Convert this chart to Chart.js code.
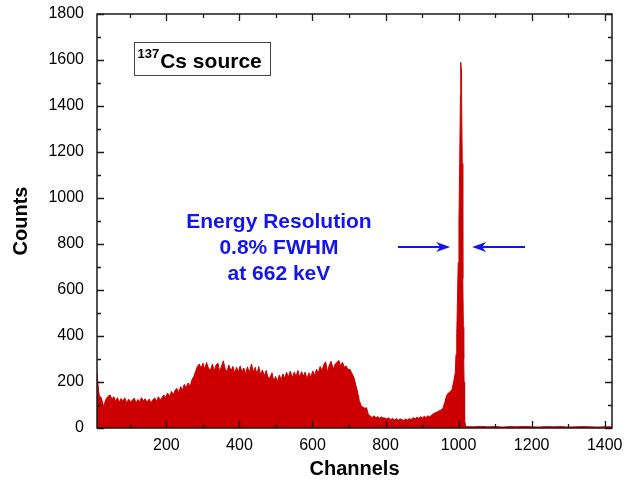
<!DOCTYPE html>
<html>
<head>
<meta charset="utf-8">
<script src="https://cdn.jsdelivr.net/npm/chart.js@4.4.1/dist/chart.umd.min.js"></script>
<style>
  html, body { margin: 0; padding: 0; background: #fff; }
  canvas { display: block; }
</style>
</head>
<body>
<canvas id="spectrum" width="628" height="487"></canvas>
<script>
// 137Cs spectrum
const channels = [
  10, 13, 16, 19, 22, 25, 28, 31, 35, 41, 46, 51, 56, 61, 66, 71, 76, 81, 86, 91,
  97, 102, 107, 112, 117, 122, 127, 132, 137, 142, 147, 153, 158, 163, 168, 173, 178, 183, 188, 193,
  198, 203, 209, 214, 219, 224, 229, 234, 239, 244, 249, 254, 259, 265, 270, 275, 280, 285, 290, 295,
  300, 305, 310, 315, 321, 326, 331, 336, 341, 346, 351, 356, 361, 366, 371, 377, 382, 387, 392, 397,
  402, 407, 412, 417, 422, 427, 433, 438, 443, 448, 453, 458, 463, 468, 473, 478, 483, 489, 494, 499,
  504, 509, 514, 519, 524, 529, 534, 539, 545, 550, 555, 560, 565, 570, 575, 580, 585, 590, 595, 601,
  606, 611, 616, 621, 626, 631, 636, 641, 646, 651, 657, 662, 667, 672, 677, 682, 687, 692, 697, 702,
  707, 713, 718, 723, 728, 733, 738, 743, 748, 753, 758, 763, 769, 774, 779, 784, 789, 794, 799, 804,
  809, 814, 819, 825, 830, 835, 840, 845, 850, 855, 860, 865, 870, 875, 881, 886, 891, 896, 901, 906,
  911, 916, 921, 926, 931, 937, 942, 947, 952, 957, 962, 967, 972, 977, 982, 987, 991, 993, 995, 997,
  999, 1001, 1003, 1005, 1006, 1007, 1008, 1010, 1011, 1012, 1013, 1014, 1015, 1016, 1017, 1019, 1023, 1040, 1060, 1080,
  1100, 1120, 1140, 1160, 1180, 1200, 1220, 1240, 1260, 1280, 1300, 1320, 1340, 1360, 1380, 1400, 1420
];
const counts = [
  240, 185, 142, 136, 130, 112, 94, 110, 126, 139, 143, 126, 136, 116, 132, 112, 128, 117, 131, 110,
  125, 112, 122, 130, 108, 124, 115, 132, 117, 127, 112, 126, 109, 123, 131, 115, 136, 120, 133, 144,
  132, 152, 138, 159, 145, 165, 172, 153, 180, 164, 190, 174, 196, 181, 210, 224, 246, 268, 278, 260,
  282, 256, 285, 260, 252, 278, 248, 274, 282, 244, 270, 292, 256, 246, 274, 248, 268, 238, 264, 244,
  270, 242, 261, 236, 266, 240, 278, 244, 264, 234, 267, 230, 252, 226, 250, 222, 216, 240, 204, 224,
  201, 230, 212, 235, 216, 242, 222, 247, 219, 243, 224, 250, 220, 245, 226, 243, 212, 240, 222, 248,
  228, 256, 239, 268, 248, 276, 288, 242, 274, 290, 256, 278, 285, 294, 270, 286, 264, 270, 254, 256,
  240, 222, 190, 160, 120, 98, 90, 86, 88, 58, 52, 46, 53, 44, 50, 42, 48, 44, 43, 39,
  44, 36, 42, 35, 41, 34, 40, 36, 33, 39, 35, 41, 36, 45, 40, 47, 42, 49, 44, 51,
  46, 53, 48, 57, 62, 67, 70, 75, 78, 86, 110, 140, 152, 158, 168, 205, 240, 320, 410, 560,
  720, 900, 1150, 1450, 1590, 1560, 1470, 1150, 900, 650, 440, 300, 200, 90, 35, 10, 6, 5, 7, 5,
  6, 4, 6, 5, 7, 5, 4, 6, 5, 6, 4, 5, 6, 5, 4, 5, 5
];

const xTicks = [200, 400, 600, 800, 1000, 1200, 1400];
const xMinorTicks = [100, 300, 500, 700, 900, 1100, 1300];
const yTicks = [0, 200, 400, 600, 800, 1000, 1200, 1400, 1600, 1800];
const yMinorTicks = [100, 300, 500, 700, 900, 1100, 1300, 1500, 1700];

const FONT = "Arial, 'Liberation Sans', sans-serif";
const RED = 'rgb(204, 0, 0)';
const BLUE = 'rgb(20, 20, 240)';

// annotation placement in data units
const resolutionText = ['Energy Resolution', '0.8% FWHM', 'at 662 keV'];
const resolutionPos = { x: 508, y: [896, 783, 670] };
const arrowLeft = { from: 834, to: 977, y: 787 };
const arrowRight = { from: 1182, to: 1037, y: 787 };
const sourceBox = { x0: 111, x1: 484, y0: 1678, y1: 1535 };

const points = channels.map((c, i) => ({ x: c, y: counts[i] }));

// frame + inward ticks on all four sides
const frameTicks = {
    id: 'frameTicks',
    afterDraw(chart) {
        const { ctx, chartArea: a, scales: { x, y } } = chart;
        ctx.save();
        ctx.strokeStyle = '#1a1a1a';
        ctx.lineWidth = 1.5;
        ctx.strokeRect(a.left, a.top, a.right - a.left, a.bottom - a.top);

        ctx.lineWidth = 1.3;
        ctx.beginPath();
        const tickX = (v, len) => {
            const px = Math.round(x.getPixelForValue(v)) + 0.5;
            ctx.moveTo(px, a.bottom); ctx.lineTo(px, a.bottom - len);
            ctx.moveTo(px, a.top); ctx.lineTo(px, a.top + len);
        };
        const tickY = (v, len) => {
            const py = Math.round(y.getPixelForValue(v)) + 0.5;
            ctx.moveTo(a.left, py); ctx.lineTo(a.left + len, py);
            ctx.moveTo(a.right, py); ctx.lineTo(a.right - len, py);
        };
        xTicks.forEach(v => tickX(v, 7));
        xMinorTicks.forEach(v => tickX(v, 4));
        yTicks.forEach(v => tickY(v, 7));
        yMinorTicks.forEach(v => tickY(v, 4));
        ctx.stroke();
        ctx.restore();
    }
};

const annotations = {
    id: 'annotations',
    afterDraw(chart) {
        const { ctx, scales: { x, y } } = chart;
        ctx.save();

        // source label box
        const bx0 = Math.round(x.getPixelForValue(sourceBox.x0)) + 0.5;
        const bx1 = Math.round(x.getPixelForValue(sourceBox.x1)) + 0.5;
        const by0 = Math.round(y.getPixelForValue(sourceBox.y0)) + 0.5;
        const by1 = Math.round(y.getPixelForValue(sourceBox.y1)) + 0.5;
        ctx.strokeStyle = '#444';
        ctx.lineWidth = 1;
        ctx.strokeRect(bx0, by0, bx1 - bx0, by1 - by0);
        ctx.fillStyle = '#000';
        ctx.textAlign = 'left';
        ctx.textBaseline = 'alphabetic';
        ctx.font = 'bold 13px ' + FONT;
        ctx.fillText('137', bx0 + 3, by0 + 15);
        const supW = ctx.measureText('137').width;
        ctx.font = 'bold 21px ' + FONT;
        ctx.fillText('Cs source', bx0 + 4 + supW, by0 + 25);

        // resolution note
        ctx.fillStyle = BLUE;
        ctx.textAlign = 'center';
        ctx.textBaseline = 'middle';
        ctx.font = 'bold 21px ' + FONT;
        resolutionText.forEach((t, i) => {
            ctx.fillText(t, x.getPixelForValue(resolutionPos.x), y.getPixelForValue(resolutionPos.y[i]));
        });

        // arrows pointing at the peak
        const arrow = (ar) => {
            const x0 = x.getPixelForValue(ar.from);
            const x1 = x.getPixelForValue(ar.to);
            const py = y.getPixelForValue(ar.y);
            const dir = Math.sign(x1 - x0);
            ctx.strokeStyle = BLUE;
            ctx.fillStyle = BLUE;
            ctx.lineWidth = 2;
            ctx.beginPath();
            ctx.moveTo(x0, py);
            ctx.lineTo(x1 - dir * 8, py);
            ctx.stroke();
            ctx.beginPath();
            ctx.moveTo(x1, py);
            ctx.lineTo(x1 - dir * 14, py - 5);
            ctx.lineTo(x1 - dir * 10, py);
            ctx.lineTo(x1 - dir * 14, py + 5);
            ctx.closePath();
            ctx.fill();
        };
        arrow(arrowLeft);
        arrow(arrowRight);
        ctx.restore();
    }
};

const ctx = document.getElementById('spectrum').getContext('2d');
new Chart(ctx, {
    type: 'line',
    data: {
        datasets: [{
            data: points,
            borderColor: RED,
            backgroundColor: RED,
            borderWidth: 1,
            pointRadius: 0,
            tension: 0,
            fill: 'origin'
        }]
    },
    options: {
        responsive: false,
        animation: false,
        devicePixelRatio: 1,
        layout: { padding: { left: 0, top: 14, right: 16, bottom: 0 } },
        plugins: {
            legend: { display: false },
            tooltip: { enabled: false }
        },
        scales: {
            x: {
                type: 'linear',
                min: 10,
                max: 1420,
                grid: { display: false, drawTicks: false },
                border: { display: false },
                afterBuildTicks: (scale) => { scale.ticks = xTicks.map(v => ({ value: v })); },
                afterFit: (scale) => { scale.height = 59; scale.paddingLeft = 0; scale.paddingRight = 0; },
                ticks: {
                    padding: 8,
                    color: '#000',
                    maxRotation: 0,
                    callback: (v) => String(v),
                    font: { family: FONT, size: 16 }
                },
                title: {
                    display: true,
                    text: 'Channels',
                    color: '#000',
                    padding: { top: 0, bottom: 6 },
                    font: { family: FONT, size: 20, weight: 'bold' }
                }
            },
            y: {
                min: 0,
                max: 1800,
                grid: { display: false, drawTicks: false },
                border: { display: false },
                afterBuildTicks: (scale) => { scale.ticks = yTicks.map(v => ({ value: v })); },
                afterFit: (scale) => { scale.width = 97; scale.paddingTop = 0; scale.paddingBottom = 0; },
                ticks: {
                    padding: 13,
                    color: '#000',
                    callback: (v) => String(v),
                    font: { family: FONT, size: 16 }
                },
                title: {
                    display: true,
                    text: 'Counts',
                    color: '#000',
                    padding: { top: 9, bottom: 0 },
                    font: { family: FONT, size: 20, weight: 'bold' }
                }
            }
        }
    },
    plugins: [frameTicks, annotations]
});
</script>
</body>
</html>
